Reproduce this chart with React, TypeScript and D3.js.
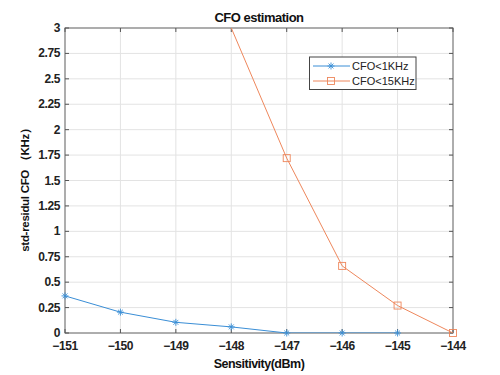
import React from "react";
import * as d3 from "d3";

const xValues = [-151, -150, -149, -148, -147, -146, -145, -144];
const series1X = [-151, -150, -149, -148, -147, -146, -145];
const series1Y = [0.365, 0.205, 0.105, 0.06, 0, 0, 0];
const series2X = [-148, -147, -146, -145, -144];
const series2Y = [3.0, 1.72, 0.66, 0.27, 0];
const yTicks = [0, 0.25, 0.5, 0.75, 1, 1.25, 1.5, 1.75, 2, 2.25, 2.5, 2.75, 3];
const seriesNames = ["CFO<1KHz", "CFO<15KHz"];

const W = 500, H = 375;
const L = 65, R = 453, T = 28, B = 333;
const blue = "#3a8ed6";
const orange = "#ee875c";
const font = "'Liberation Sans', Arial, sans-serif";

export default function App() {
  const x = d3.scaleLinear().domain([-151, -144]).range([L, R]);
  const y = d3.scaleLinear().domain([0, 3]).range([B, T]);
  const line = d3.line<[number, number]>().x(d => x(d[0])).y(d => y(d[1]));
  const d1 = series1X.map((v, i) => [v, series1Y[i]] as [number, number]);
  const d2 = series2X.map((v, i) => [v, series2Y[i]] as [number, number]);

  const star = (cx: number, cy: number, c: string, k: string) => {
    const s = 3.5;
    return (
      <g key={k} stroke={c} strokeWidth={0.9}>
        <line x1={cx - s} y1={cy} x2={cx + s} y2={cy} />
        <line x1={cx} y1={cy - s} x2={cx} y2={cy + s} />
        <line x1={cx - s * 0.7} y1={cy - s * 0.7} x2={cx + s * 0.7} y2={cy + s * 0.7} />
        <line x1={cx - s * 0.7} y1={cy + s * 0.7} x2={cx + s * 0.7} y2={cy - s * 0.7} />
      </g>
    );
  };
  const square = (cx: number, cy: number, c: string, k: string) => (
    <rect key={k} x={cx - 3.5} y={cy - 3.5} width={7} height={7} fill="none" stroke={c} strokeWidth={0.9} />
  );

  return (
    <svg width={W} height={H} style={{ position: "absolute", left: 0, top: 0, background: "#fff" }} fontFamily={font}>
      <rect x={0} y={0} width={W} height={H} fill="#fff" />
      <defs>
        <clipPath id="plot">
          <rect x={L} y={T} width={R - L} height={B - T} />
        </clipPath>
      </defs>
      {/* grid */}
      {xValues.map(v => (
        <line key={"gx" + v} x1={x(v)} x2={x(v)} y1={T} y2={B} stroke="#e3e3e3" strokeWidth={1} />
      ))}
      {yTicks.map(v => (
        <line key={"gy" + v} x1={L} x2={R} y1={y(v)} y2={y(v)} stroke="#e3e3e3" strokeWidth={1} />
      ))}
      {/* axes box */}
      <rect x={L} y={T} width={R - L} height={B - T} fill="none" stroke="#6b6b6b" strokeWidth={1} />
      {/* ticks */}
      {xValues.map(v => (
        <g key={"tx" + v}>
          <line x1={x(v)} x2={x(v)} y1={B} y2={B - 4} stroke="#555" />
          <line x1={x(v)} x2={x(v)} y1={T} y2={T + 4} stroke="#555" />
          <text x={x(v)} y={350} fontSize={12} fontWeight="bold" textAnchor="middle" fill="#222" letterSpacing={-0.4}>
            {"\u2212" + Math.abs(v)}
          </text>
        </g>
      ))}
      {yTicks.map(v => (
        <g key={"ty" + v}>
          <line x1={L} x2={L + 4} y1={y(v)} y2={y(v)} stroke="#555" />
          <line x1={R} x2={R - 4} y1={y(v)} y2={y(v)} stroke="#555" />
          <text x={60} y={y(v) + 4} fontSize={12} fontWeight="bold" textAnchor="end" fill="#222" letterSpacing={-0.4}>
            {String(v)}
          </text>
        </g>
      ))}
      {/* series */}
      <g clipPath="url(#plot)">
        <path d={line(d1) || ""} fill="none" stroke={blue} strokeWidth={1} />
        <path d={line(d2) || ""} fill="none" stroke={orange} strokeWidth={1} />
      </g>
      {d1.map((p, i) => star(x(p[0]), y(p[1]), blue, "s" + i))}
      {d2.filter(p => p[1] < 3).map((p, i) => square(x(p[0]), y(p[1]), orange, "q" + i))}
      {/* title & labels */}
      <text x={259} y={22} fontSize={13} fontWeight="bold" textAnchor="middle" fill="#111" letterSpacing={-0.5}>
        CFO estimation
      </text>
      <text x={259} y={368} fontSize={12.5} fontWeight="bold" textAnchor="middle" fill="#111" letterSpacing={-0.5}>
        Sensitivity(dBm)
      </text>
      <text transform={`translate(29,${187}) rotate(-90)`} fontSize={11.5} fontWeight="bold" textAnchor="middle" fill="#111" letterSpacing={-0.3}>
        std-residul CFO （KHz）
      </text>
      {/* legend */}
      <rect x={309.5} y={57} width={106.5} height={32.5} fill="#fff" stroke="#444" strokeWidth={1} />
      <line x1={313} x2={350} y1={66} y2={66} stroke={blue} strokeWidth={1} />
      {star(331, 66, blue, "ls")}
      <text x={352} y={70} fontSize={11} fill="#222">{seriesNames[0]}</text>
      <line x1={313} x2={350} y1={81} y2={81} stroke={orange} strokeWidth={1} />
      {square(331, 81, orange, "lq")}
      <text x={352} y={85} fontSize={11} fill="#222">{seriesNames[1]}</text>
    </svg>
  );
}
